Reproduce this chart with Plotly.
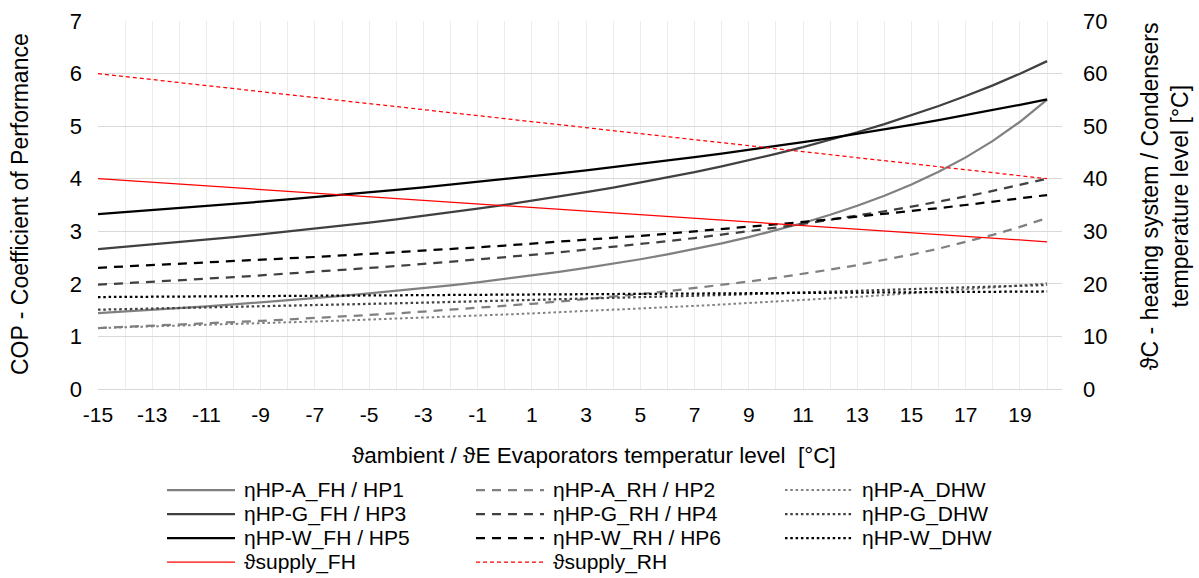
import plotly.graph_objects as go

# ambient / evaporator temperature [°C] (categories)
x_temp = list(range(-15, 21))
x_tick_vals = list(range(-15, 20, 2))
x_tick_text = [str(v) for v in x_tick_vals]

# COP series (left axis)
cop_a_fh = [1.445, 1.475, 1.506, 1.539, 1.573, 1.609, 1.647, 1.686, 1.728, 1.772,
            1.818, 1.866, 1.918, 1.972, 2.030, 2.092, 2.157, 2.227, 2.302, 2.382,
            2.468, 2.561, 2.660, 2.769, 2.888, 3.016, 3.157, 3.314, 3.485, 3.676,
            3.890, 4.133, 4.406, 4.719, 5.083, 5.506]
cop_a_rh = [1.160, 1.181, 1.202, 1.224, 1.247, 1.271, 1.296, 1.322, 1.349, 1.378,
            1.407, 1.439, 1.472, 1.506, 1.542, 1.580, 1.621, 1.663, 1.708, 1.756,
            1.806, 1.860, 1.917, 1.978, 2.044, 2.114, 2.190, 2.271, 2.358, 2.454,
            2.557, 2.670, 2.795, 2.932, 3.083, 3.252]
cop_a_dhw = [1.160, 1.174, 1.189, 1.204, 1.219, 1.235, 1.251, 1.267, 1.284, 1.302,
             1.319, 1.338, 1.357, 1.376, 1.396, 1.417, 1.438, 1.460, 1.482, 1.506,
             1.530, 1.554, 1.580, 1.607, 1.634, 1.662, 1.691, 1.722, 1.753, 1.786,
             1.820, 1.855, 1.891, 1.929, 1.969, 2.010]
cop_g_fh = [2.661, 2.704, 2.748, 2.794, 2.841, 2.890, 2.941, 2.994, 3.049, 3.106,
            3.165, 3.227, 3.291, 3.359, 3.429, 3.502, 3.580, 3.660, 3.744, 3.832,
            3.926, 4.024, 4.126, 4.236, 4.350, 4.472, 4.600, 4.738, 4.883, 5.038,
            5.205, 5.382, 5.572, 5.776, 5.998, 6.237]
cop_g_rh = [1.983, 2.010, 2.038, 2.067, 2.098, 2.128, 2.161, 2.194, 2.228, 2.263,
            2.300, 2.338, 2.378, 2.419, 2.461, 2.505, 2.551, 2.599, 2.650, 2.702,
            2.756, 2.813, 2.872, 2.934, 3.000, 3.069, 3.140, 3.216, 3.296, 3.380,
            3.469, 3.562, 3.662, 3.768, 3.880, 4.000]
cop_g_dhw = [1.508, 1.518, 1.529, 1.539, 1.550, 1.561, 1.572, 1.583, 1.595, 1.606,
             1.618, 1.630, 1.642, 1.654, 1.667, 1.680, 1.692, 1.705, 1.719, 1.732,
             1.746, 1.760, 1.774, 1.788, 1.803, 1.817, 1.833, 1.848, 1.863, 1.879,
             1.895, 1.912, 1.928, 1.945, 1.962, 1.980]
cop_w_fh = [3.328, 3.365, 3.402, 3.441, 3.480, 3.521, 3.562, 3.605, 3.648, 3.694,
            3.740, 3.787, 3.835, 3.886, 3.937, 3.990, 4.045, 4.101, 4.159, 4.219,
            4.281, 4.344, 4.410, 4.478, 4.548, 4.620, 4.695, 4.773, 4.853, 4.937,
            5.024, 5.113, 5.207, 5.304, 5.405, 5.510]
cop_w_rh = [2.306, 2.330, 2.354, 2.378, 2.404, 2.430, 2.456, 2.483, 2.511, 2.540,
            2.569, 2.600, 2.631, 2.663, 2.695, 2.729, 2.764, 2.800, 2.837, 2.875,
            2.914, 2.954, 2.996, 3.039, 3.083, 3.129, 3.177, 3.226, 3.277, 3.330,
            3.384, 3.441, 3.500, 3.561, 3.624, 3.690]
cop_w_dhw = [1.749, 1.752, 1.755, 1.758, 1.761, 1.763, 1.766, 1.769, 1.772, 1.775,
             1.778, 1.781, 1.784, 1.787, 1.790, 1.793, 1.796, 1.799, 1.802, 1.805,
             1.808, 1.811, 1.814, 1.817, 1.820, 1.824, 1.827, 1.830, 1.833, 1.836,
             1.839, 1.842, 1.846, 1.849, 1.852, 1.855]

# supply (condenser) temperatures [°C] (right axis)
supply_fh = [40.00, 39.66, 39.31, 38.97, 38.63, 38.29, 37.94, 37.60, 37.26, 36.91,
             36.57, 36.23, 35.89, 35.54, 35.20, 34.86, 34.51, 34.17, 33.83, 33.49,
             33.14, 32.80, 32.46, 32.11, 31.77, 31.43, 31.09, 30.74, 30.40, 30.06,
             29.71, 29.37, 29.03, 28.69, 28.34, 28.00]
supply_rh = [60.00, 59.43, 58.86, 58.29, 57.71, 57.14, 56.57, 56.00, 55.43, 54.86,
             54.29, 53.71, 53.14, 52.57, 52.00, 51.43, 50.86, 50.29, 49.71, 49.14,
             48.57, 48.00, 47.43, 46.86, 46.29, 45.71, 45.14, 44.57, 44.00, 43.43,
             42.86, 42.29, 41.71, 41.14, 40.57, 40.00]

FONT = "Liberation Sans, Arial, sans-serif"
GRAY = "#808080"
DGRAY = "#404040"
BLACK = "#000000"
RED = "#ff0000"
DASH = "9px,7px"
DOT = "2.5px,2.8px"

# (name, values, colour, dash, width, axis, legend column, legend row)
series = [
    ("ηHP-A_FH / HP1", cop_a_fh, GRAY, "solid", 2.25, "y", 0, 0),
    ("ηHP-A_RH / HP2", cop_a_rh, GRAY, DASH, 2.25, "y", 1, 0),
    ("ηHP-A_DHW", cop_a_dhw, GRAY, DOT, 2.0, "y", 2, 0),
    ("ηHP-G_FH / HP3", cop_g_fh, DGRAY, "solid", 2.25, "y", 0, 1),
    ("ηHP-G_RH / HP4", cop_g_rh, DGRAY, DASH, 2.25, "y", 1, 1),
    ("ηHP-G_DHW", cop_g_dhw, DGRAY, DOT, 2.25, "y", 2, 1),
    ("ηHP-W_FH / HP5", cop_w_fh, BLACK, "solid", 2.25, "y", 0, 2),
    ("ηHP-W_RH / HP6", cop_w_rh, BLACK, DASH, 2.25, "y", 1, 2),
    ("ηHP-W_DHW", cop_w_dhw, BLACK, DOT, 2.25, "y", 2, 2),
    ("ϑsupply_FH", supply_fh, RED, "solid", 1.25, "y2", 0, 3),
    ("ϑsupply_RH", supply_rh, RED, "4px,3px", 1.25, "y2", 1, 3),
]

W, H = 1199, 578
ML, MR, MT, MB = 98, 137, 21, 189
PW, PH = W - ML - MR, H - MT - MB


def px_x(px):
    return (px - ML) / PW


def px_y(py):
    return (H - MB - py) / PH


fig = go.Figure()
shapes = []
annotations = []
for name, vals, color, dash, width, yax, col, row in series:
    fig.add_trace(go.Scatter(
        x=x_temp, y=vals, name=name, mode="lines", yaxis=yax, showlegend=False,
        line=dict(color=color, width=width, dash=dash),
    ))
    # manual legend entry (3 columns x 4 rows, like the original)
    x0 = 167 + 309 * col
    yc = 490 + 24 * row
    shapes.append(dict(type="line", xref="paper", yref="paper",
                       x0=px_x(x0), x1=px_x(x0 + 68), y0=px_y(yc), y1=px_y(yc),
                       line=dict(color=color, width=width, dash=dash)))
    annotations.append(dict(text=name, xref="paper", yref="paper",
                            x=px_x(x0 + 75), y=px_y(yc), xanchor="left", yanchor="middle",
                            showarrow=False, font=dict(size=21)))

# axis titles
annotations.append(dict(text="ϑambient / ϑE Evaporators temperatur level \u00a0[°C]",
                        xref="paper", yref="paper", x=px_x(594), y=px_y(455),
                        xanchor="center", yanchor="middle", showarrow=False,
                        font=dict(size=22.5)))
annotations.append(dict(text="COP - Coefficient of Performance",
                        xref="paper", yref="paper", x=px_x(20), y=px_y(204),
                        xanchor="center", yanchor="middle", textangle=-90, showarrow=False,
                        font=dict(size=23)))
annotations.append(dict(text="ϑC - heating system / Condensers<br>temperature level [°C]",
                        xref="paper", yref="paper", x=px_x(1165), y=px_y(196),
                        xanchor="center", yanchor="middle", textangle=-90, showarrow=False,
                        font=dict(size=23)))

fig.update_layout(
    width=W, height=H,
    margin=dict(l=ML, r=MR, t=MT, b=MB, autoexpand=False),
    paper_bgcolor="white", plot_bgcolor="white",
    font=dict(family=FONT, size=21, color="black"),
    showlegend=False,
    shapes=shapes,
    annotations=annotations,
    xaxis=dict(
        range=[-15, 20.55], tickmode="array", tickvals=x_tick_vals, ticktext=x_tick_text,
        showgrid=True, gridcolor="#ececec", gridwidth=1,
        minor=dict(tickmode="linear", tick0=-15, dtick=1, showgrid=True,
                   gridcolor="#ececec", gridwidth=1),
        zeroline=False, showline=True, linecolor="#d9d9d9", linewidth=1.3,
        ticks="", tickfont=dict(size=21), ticklabelstandoff=7,
    ),
    yaxis=dict(
        range=[0, 7], tickmode="linear", tick0=0, dtick=1,
        showgrid=True, gridcolor="#d9d9d9", gridwidth=1.3, zeroline=False,
        ticks="", tickfont=dict(size=22), ticklabelstandoff=15,
    ),
    yaxis2=dict(
        range=[0, 70], tickmode="linear", tick0=0, dtick=10, overlaying="y", side="right",
        showgrid=False, zeroline=False, ticks="", tickfont=dict(size=22),
        ticklabelstandoff=20,
    ),
)

fig.write_html("out.html")
